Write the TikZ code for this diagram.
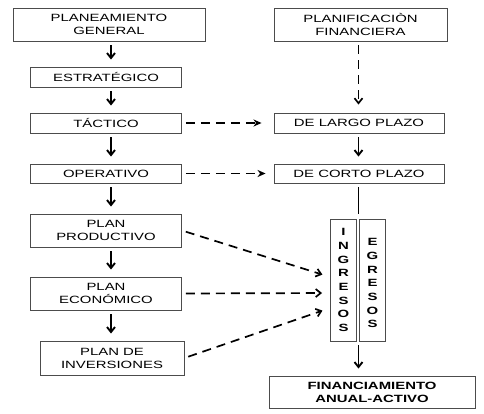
\documentclass[tikz,border=0pt]{standalone}
\usepackage{fontspec}
\setmainfont{Liberation Sans}[FakeStretch=1.42]
\usetikzlibrary{arrows.meta}

\begin{document}
\begin{tikzpicture}[x=1pt, y=-1pt,
    caja/.style={draw=black!70, line width=0.9pt, inner sep=0pt, align=center,
      font=\fontsize{10.5}{13}\selectfont},
    letras/.style={caja, minimum width=26pt, minimum height=122pt,
      font=\bfseries\fontsize{10.5}{13.7}\selectfont},
    flecha/.style={line width=1.9pt, shorten <=4pt, shorten >=7pt,
      -{Straight Barb[length=5pt, width=8pt]}},
    trazo/.style={line width=1.7pt, dash pattern=on 9pt off 6pt,
      shorten <=4pt, shorten >=8pt, -{Stealth[length=8pt, width=7pt, inset=2.5pt]}},
    punta/.style={-{Straight Barb[length=5pt, width=8pt]}}]
    \useasboundingbox (0,0) rectangle (484,414);
    % columna izquierda
    \node[caja, minimum width=192pt, minimum height=33pt] (general) at (109,24.5) {PLANEAMIENTO\\GENERAL};
    \node[caja, minimum width=151pt, minimum height=20pt] (estrategico) at (106,77) {ESTRATÉGICO};
    \node[caja, minimum width=151pt, minimum height=20pt] (tactico) at (106,123) {TÁCTICO};
    \node[caja, minimum width=151pt, minimum height=19pt] (operativo) at (106,173.5) {OPERATIVO};
    \node[caja, minimum width=151pt, minimum height=33pt] (productivo) at (106,230.5) {PLAN\\PRODUCTIVO};
    \node[caja, minimum width=151pt, minimum height=33pt] (economico) at (106,293.5) {PLAN\\ECONÓMICO};
    \node[caja, minimum width=144pt, minimum height=34pt] (inversiones) at (112,358) {PLAN DE\\INVERSIONES};
    % columna derecha
    \node[caja, minimum width=173pt, minimum height=33pt] (financiera) at (360.5,24.5) {PLANIFICACIÒN\\FINANCIERA};
    \node[caja, minimum width=170pt, minimum height=20pt] (largo) at (359,123) {DE LARGO PLAZO};
    \node[caja, minimum width=170pt, minimum height=19pt] (corto) at (359,173.5) {DE CORTO PLAZO};
    \node[letras] (ingresos) at (343.5,280) {I\\N\\G\\R\\E\\S\\O\\S};
    \node[letras] (egresos) at (372.5,280) {\mbox{}\\E\\G\\R\\E\\S\\O\\S};
    \node[caja, minimum width=206pt, minimum height=32pt, font=\bfseries\fontsize{10.5}{13}\selectfont]
      (financiamiento) at (372,392) {FINANCIAMIENTO\\ANUAL-ACTIVO};
    \coordinate (eje) at (111,0);
    \coordinate (eje2) at (358.5,0);

    \draw[flecha] (eje |- general.south) -- (eje |- estrategico.north);
    \draw[flecha] (eje |- estrategico.south) -- (eje |- tactico.north);
    \draw[flecha] (eje |- tactico.south) -- (eje |- operativo.north);
    \draw[flecha] (eje |- operativo.south) -- (eje |- productivo.north);
    \draw[flecha] (eje |- productivo.south) -- (eje |- economico.north);
    \draw[flecha] (eje |- economico.south) -- (eje |- inversiones.north);

    \draw[trazo, punta] (eje2 |- financiera.south) -- (eje2 |- largo.north);
    \draw[flecha] (eje2 |- largo.south) -- (eje2 |- corto.north);
    \draw[line width=1.9pt, shorten <=4pt, shorten >=5pt] (eje2 |- corto.south) -- (eje2 |- ingresos.north);
    \draw[flecha] (eje2 |- ingresos.south) -- (eje2 |- financiamiento.north);

    \draw[trazo, shorten >=12pt] (tactico) -- (largo);
    \draw[trazo] (operativo.east) -- (corto.west);
    \draw[trazo, punta] (productivo.east) -- ([yshift=3pt]ingresos.west);
    \draw[trazo, punta] (economico.east) -- ([yshift=-13pt]ingresos.west);
    \draw[trazo, punta] (inversiones.east) -- ([yshift=-28pt]ingresos.west);
\end{tikzpicture}
\end{document}
